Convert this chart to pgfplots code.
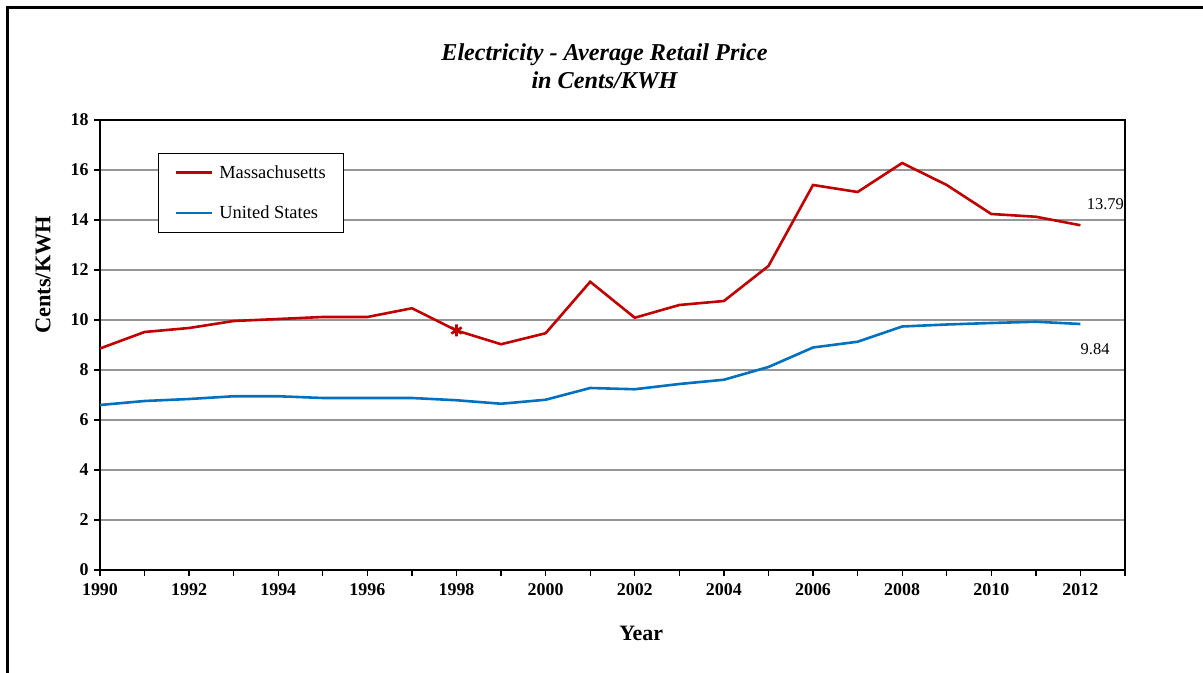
\documentclass[border=0pt]{standalone}
\usepackage{fontspec}
\setmainfont{Liberation Serif}
\usepackage{pgfplots}
\pgfplotsset{compat=1.18}
\definecolor{maRed}{HTML}{C00000}
\definecolor{usBlue}{HTML}{0070C0}
\definecolor{gridGray}{HTML}{969696}
\begin{document}
\begin{tikzpicture}
\useasboundingbox (0,0) rectangle (1203bp,673bp);
% outer frame (left and top edges)
\draw[line width=2.8bp] (7.3bp,0bp) -- (7.3bp,665.7bp) -- (1203bp,665.7bp);
\begin{axis}[
  at={(100bp,103bp)}, anchor=south west,
  scale only axis, width=1025bp, height=450bp,
  xmin=1990, xmax=2013, ymin=0, ymax=18,
  xtick={1990,1992,...,2012},
  minor xtick={1991,1993,...,2013},
  ytick={0,2,...,18},
  xtick pos=left, ytick pos=left,
  tick align=outside,
  major tick length=6bp, minor tick length=6bp,
  every tick/.style={black, line width=1.3bp},
  minor tick style={black, line width=1.3bp},
  ymajorgrids, grid style={gridGray, line width=1.3bp},
  axis line style={black, line width=1.8bp},
  /pgf/number format/assume math mode=true,
  /pgf/number format/1000 sep={},
  ticklabel style={font=\fontsize{18}{18}\selectfont\bfseries},
  xticklabel style={yshift=-4bp},
  yticklabel style={xshift=-2bp},
  xlabel={Year}, ylabel={Cents/KWH},
  xlabel style={at={(axis description cs:0.528,-0.14)}, anchor=center, font=\fontsize{22}{22}\selectfont\bfseries},
  ylabel style={at={(axis description cs:-0.0556,0.656)}, anchor=center, font=\fontsize{22.5}{22.5}\selectfont\bfseries},
  title={Electricity - Average Retail Price\\in Cents/KWH},
  title style={at={(axis description cs:0.5,1)}, anchor=center, yshift=48bp, xshift=-8bp, align=center, font=\fontsize{24.3}{28}\selectfont\bfseries\itshape},
  legend style={at={(axis description cs:0.0566,0.9267)}, anchor=north west, draw=black, line width=1bp,
    font=\fontsize{18.5}{18.5}\selectfont, inner xsep=16bp, inner ysep=10bp, row sep=22bp,
    nodes={inner sep=2bp},
    /tikz/every odd column/.append style={column sep=4bp}},
  legend cell align=left,
  legend image code/.code={\draw[#1, line width=2.8bp] (0bp,0bp) -- (36bp,0bp);},
]
\addplot[maRed, line width=2.6bp, mark=asterisk, mark indices={9}, mark size=6bp, mark options={solid, line width=2.6bp}] coordinates {
(1990,8.86) (1991,9.52) (1992,9.68) (1993,9.96) (1994,10.04) (1995,10.12)
(1996,10.12) (1997,10.47) (1998,9.58) (1999,9.03) (2000,9.47) (2001,11.53)
(2002,10.09) (2003,10.60) (2004,10.76) (2005,12.16) (2006,15.40) (2007,15.12)
(2008,16.28) (2009,15.40) (2010,14.24) (2011,14.13) (2012,13.79)
};
\addlegendentry{Massachusetts}
\addplot[usBlue, line width=2.6bp] coordinates {
(1990,6.60) (1991,6.76) (1992,6.84) (1993,6.95) (1994,6.95) (1995,6.88)
(1996,6.88) (1997,6.88) (1998,6.79) (1999,6.65) (2000,6.81) (2001,7.28)
(2002,7.23) (2003,7.44) (2004,7.61) (2005,8.12) (2006,8.90) (2007,9.13)
(2008,9.74) (2009,9.82) (2010,9.88) (2011,9.93) (2012,9.84)
};
\addlegendentry{United States}
\node[font=\fontsize{16.5}{16.5}\selectfont] at (axis cs:2012.56,14.64) {13.79};
\node[font=\fontsize{16.5}{16.5}\selectfont] at (axis cs:2012.33,8.83) {9.84};
\end{axis}
\end{tikzpicture}
\end{document}
